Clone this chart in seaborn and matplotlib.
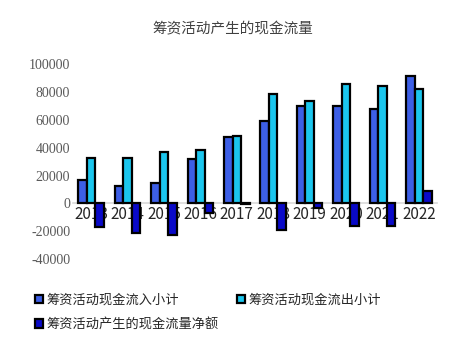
import matplotlib
matplotlib.use("Agg")
import matplotlib.pyplot as plt
import seaborn as sns
import pandas as pd

years = ["2013", "2014", "2015", "2016", "2017", "2018", "2019", "2020", "2021", "2022"]
inflow = [16700, 12600, 14800, 32000, 47800, 59300, 70100, 70100, 67900, 91600]
outflow = [32700, 32700, 37000, 38000, 48500, 78300, 73700, 85900, 84500, 82300]
net = [-16800, -21100, -23000, -6700, -700, -19200, -3600, -16300, -16300, 9000]
series = ["筹资活动现金流入小计", "筹资活动现金流出小计", "筹资活动产生的现金流量净额"]
colors = ["#3D5FE6", "#1BC6EE", "#0A0AC8"]
yticks = [-40000, -20000, 0, 20000, 40000, 60000, 80000, 100000]

df = pd.DataFrame({
    "year": years * 3,
    "value": inflow + outflow + net,
    "series": [series[0]] * 10 + [series[1]] * 10 + [series[2]] * 10,
})

sns.set_theme(style="white")
plt.rcParams["font.family"] = ["Noto Sans CJK SC", "DejaVu Sans"]

fig = plt.figure(figsize=(4.59, 3.46), dpi=100)
ax = fig.add_axes([0.159, 0.251, 0.793, 0.564])

sns.barplot(data=df, x="year", y="value", hue="series", palette=colors,
            saturation=1, width=0.7, edgecolor="black", linewidth=1.6, ax=ax,
            zorder=3, legend=True)

ax.set_xlim(-0.5, 9.5)
ax.set_ylim(-40000, 100000)
ax.set_yticks(yticks)
ax.set_yticklabels([str(v) for v in yticks], family="Liberation Serif",
                   fontsize=10, color="#595959")
ax.set_xticks(range(len(years)))
ax.set_xticklabels(years, family="Liberation Serif", fontsize=10, color="#595959")
ax.tick_params(axis="both", length=0, pad=2)
ax.set_xlabel("")
ax.set_ylabel("")
for s in ax.spines.values():
    s.set_visible(False)
# zero line doubles as the category axis
ax.spines["bottom"].set_position(("data", 0))
ax.spines["bottom"].set_visible(True)
ax.spines["bottom"].set_color("#D9D9D9")
ax.spines["bottom"].set_linewidth(1.2)
ax.spines["bottom"].set_zorder(2)
ax.grid(False)

handles, labels = ax.get_legend_handles_labels()
ax.get_legend().remove()
order = [0, 2, 1]
fig.legend([handles[i] for i in order], [labels[i] for i in order], ncol=2,
           loc="upper left", bbox_to_anchor=(0.05, 0.185),
           frameon=False, fontsize=9.5, handlelength=0.6, handleheight=0.6,
           handletextpad=0.25, columnspacing=1.4, labelspacing=0.85,
           labelcolor="#262626")

fig.suptitle("筹资活动产生的现金流量", x=0.508, y=0.935, fontsize=10.5, color="#404040")

fig.savefig("out.png", dpi=100)
